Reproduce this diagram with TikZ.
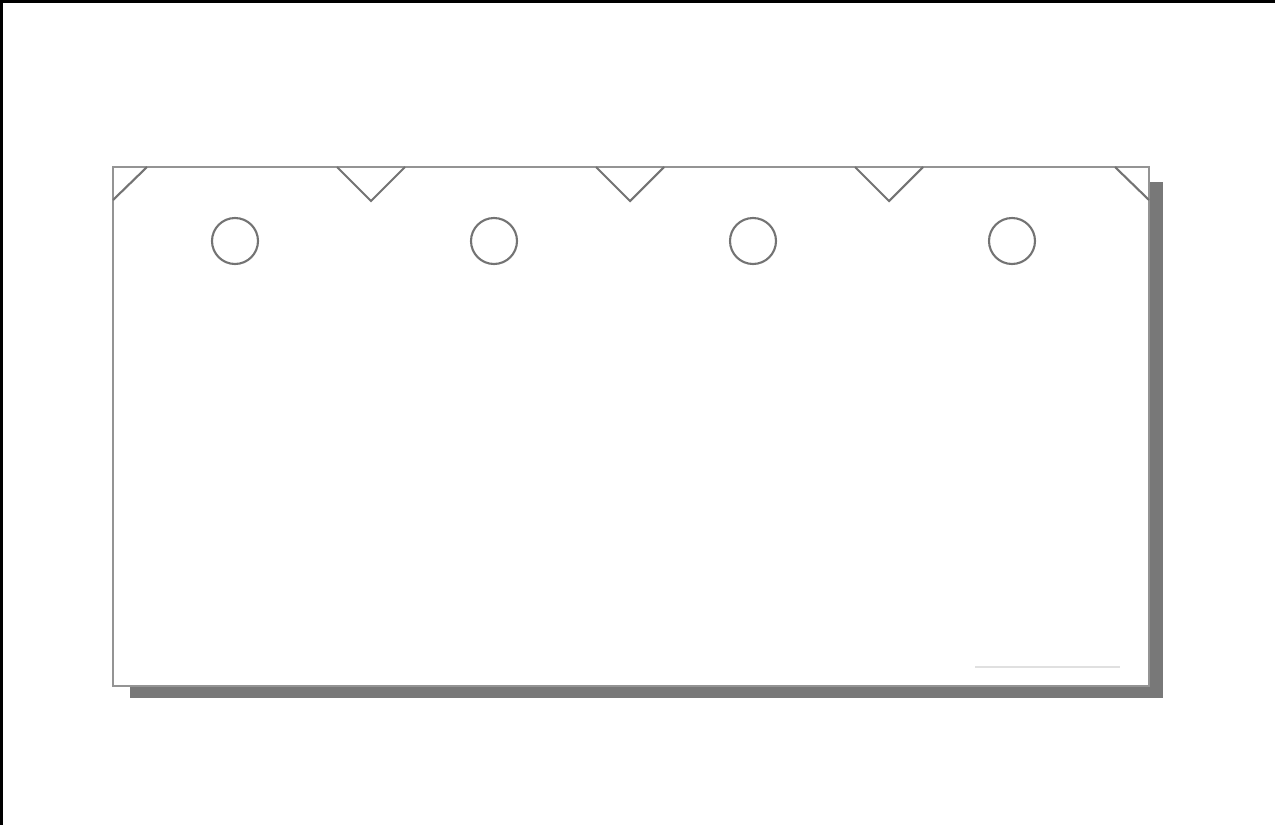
\documentclass[tikz,border=0pt]{standalone}
\usepackage{tikz}
\usetikzlibrary{positioning}

\begin{document}
\begin{tikzpicture}[x=0.02cm,y=-0.02cm]
\tikzset{card/.style ={draw=black!42,line width=1.5pt,fill=white},
         cardshade/.style ={fill=black!53},
         notch/.style ={draw=black!55,line width=1.2pt,line join=miter}}
\useasboundingbox (0,0) rectangle (1275,825);
% frame
\draw[line width=3pt] (0,825) -- (0,0) -- (1275,0);
% shadow and card
\fill[cardshade] (130,182) rectangle (1163,698);
\draw[card] (113,167) rectangle (1149,686);
% corner cuts
\draw[notch] (113,200) -- (147,167);
\draw[notch] (1115,167) -- (1149,200);
% V notches
\foreach \cx in {371,630,889}
  \draw[notch] (\cx-34,167) -- (\cx,201) -- (\cx+34,167);
% punch holes
\foreach \cx in {235,494,753,1012}
  \draw[notch] (\cx,241) circle [radius=0.46cm];
% faint mark
\draw[black!12,line width=0.6pt] (975,667) -- (1120,667);
\end{tikzpicture}
\end{document}
